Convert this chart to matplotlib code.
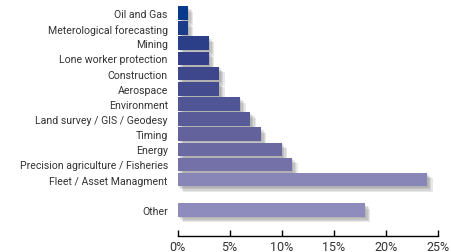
import matplotlib.pyplot as plt
from matplotlib import patheffects as pe

categories = ["Oil and Gas", "Meterological forecasting", "Mining", "Lone worker protection",
              "Construction", "Aerospace", "Environment", "Land survey / GIS / Geodesy",
              "Timing", "Energy", "Precision agriculture / Fisheries", "Fleet / Asset Managment",
              "Other"]
values = [1, 1, 3, 3, 4, 4, 6, 7, 8, 10, 11, 24, 18]
positions = [0, 1, 2, 3, 4, 5, 6, 7, 8, 9, 10, 11, 13]
colors = ["#073a8b", "#1c3c8a", "#2a3f88", "#333f88", "#3e468c", "#444b8f", "#505596",
          "#595b99", "#63629d", "#6b69a1", "#7371a7", "#8886b6", "#8d8cbc"]
xticks = [0, 5, 10, 15, 20, 25]
xticklabels = ["0%", "5%", "10%", "15%", "20%", "25%"]

plt.rcParams["font.family"] = ["Roboto", "DejaVu Sans"]

fig = plt.figure(figsize=(4.52, 2.53), dpi=100)
W, H = 452, 253
x0, x1 = 177.5, 437.7
ax = fig.add_axes([x0 / W, (H - 237) / H, (x1 - x0) / W, 237 / H])

# soft drop shadow: a few stacked faint offsets
shadow = [pe.SimplePatchShadow(offset=(o, -o), shadow_rgbFace="#444444", alpha=0.12)
          for o in (1.0, 2.0, 3.0, 4.0)] + [pe.Normal()]
bars = ax.barh(positions, values, height=0.9, color=colors, edgecolor="none")
for b in bars:
    b.set_path_effects(shadow)
    b.set_clip_on(False)

ax.set_xlim(0, 25)
ax.set_ylim(14.72, -0.92)
ax.set_yticks(positions)
ax.set_yticklabels(categories, fontsize=7.6, color="#333333")
ax.tick_params(axis="y", length=0, pad=7)
ax.set_xticks(xticks)
ax.set_xticklabels(xticklabels, fontsize=9, color="#333333")
ax.tick_params(axis="x", direction="in", length=4, width=1, pad=3, color="black")

for s in ["top", "right", "left"]:
    ax.spines[s].set_visible(False)
ax.spines["bottom"].set_linewidth(1)
ax.spines["bottom"].set_bounds(0, 25)

fig.savefig("out.png", dpi=100)
